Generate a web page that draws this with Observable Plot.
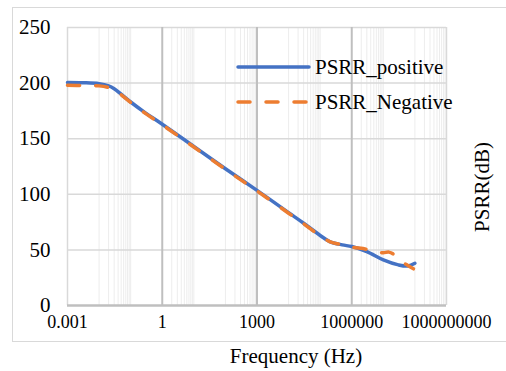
<!DOCTYPE html>
<html><head><meta charset="utf-8">
<script src="https://cdn.jsdelivr.net/npm/d3@7"></script>
<script src="https://cdn.jsdelivr.net/npm/@observablehq/plot@0.6"></script>
<style>
body{margin:0;background:#fff;}
#wrap{position:relative;width:506px;height:371px;overflow:hidden;font-family:"Liberation Serif","Times New Roman",serif;color:#000;}
#frame{position:absolute;left:12px;top:7px;width:560px;height:335px;border:1.5px solid #d9d9d9;box-sizing:border-box;}
#chart{position:absolute;left:0;top:0;}
.lab{position:absolute;font-size:21px;white-space:nowrap;line-height:1;}
.leg{position:absolute;display:flex;align-items:center;font-size:21px;white-space:nowrap;line-height:1;}
</style></head>
<body><div id="wrap"><div id="frame"></div><div id="chart"></div></div>
<script>
// Data
const freqPositive = [0.001, 0.003, 0.01, 0.02, 0.03, 0.05, 0.1, 0.3, 1, 10, 100, 1000, 10000, 30000, 100000, 200000, 500000, 1000000, 3000000, 10000000, 30000000, 60000000, 100000000];
const psrrPositive = [200.5, 200.3, 199.5, 197.5, 195, 190, 183, 173, 163, 143, 123, 103.5, 83.5, 74, 63, 57.5, 54.5, 53, 48.5, 41, 36.5, 35.5, 38];
const freqNegative = [0.001, 0.003, 0.01, 0.02, 0.03, 0.05, 0.1, 0.3, 1, 10, 100, 1000, 10000, 30000, 100000, 200000, 500000, 1000000, 3000000, 6000000, 10000000, 15000000, 20000000, 30000000, 60000000, 90000000];
const psrrNegative = [198, 197.8, 197.5, 196, 194, 189.5, 182.5, 172.5, 162.5, 142.5, 122.5, 103, 83, 73.5, 62.5, 57.5, 54.5, 52.5, 50.5, 48, 47.5, 48, 46.5, 41, 36, 33];
const seriesNames = ["PSRR_positive", "PSRR_Negative"];
const xTickValues = [0.001, 1, 1000, 1000000, 1000000000];
const yTickValues = [0, 50, 100, 150, 200, 250];
const minorDecades = [-2, 0, 2, 4, 6, 8];
const minorMultipliers = [1, 2, 3, 4, 5, 6, 7, 8, 9, 10];
const xTitle = "Frequency (Hz)";
const yTitle = "PSRR(dB)";

const colors = {pos: "#4472C4", neg: "#ED7D31"};
const dash = "12,16";

const posData = freqPositive.map((f, i) => ({f, v: psrrPositive[i]}));
const negData = freqNegative.map((f, i) => ({f, v: psrrNegative[i]}));
const majors = xTickValues.slice(1, -1);
const minorGrid = [];
for (const e of minorDecades) for (const k of minorMultipliers) {
  const v = +(k * Math.pow(10, e)).toPrecision(6);
  if (!xTickValues.includes(v)) minorGrid.push(v);
}

const chart = Plot.plot({
  width: 506, height: 371,
  marginLeft: 67, marginRight: 60, marginTop: 27, marginBottom: 66,
  style: {fontFamily: '"Liberation Serif","Times New Roman",serif', color: "#000", background: "transparent", overflow: "visible"},
  x: {type: "log", domain: [0.001, 1000000000]},
  y: {domain: [0, 250]},
  marks: [
    Plot.ruleX(minorGrid, {stroke: "#ededed", strokeWidth: 1}),
    Plot.ruleY(yTickValues.slice(1), {stroke: "#d9d9d9", strokeWidth: 1.5}),
    Plot.ruleX(majors, {stroke: "#bfbfbf", strokeWidth: 2}),
    Plot.ruleX([xTickValues[0], xTickValues[xTickValues.length - 1]], {stroke: "#d9d9d9", strokeWidth: 1.5}),
    Plot.ruleY([0], {stroke: "#bfbfbf", strokeWidth: 2.5}),
    Plot.line(posData, {x: "f", y: "v", stroke: colors.pos, strokeWidth: 3.5, curve: "catmull-rom", strokeLinecap: "round"}),
    Plot.line(negData, {x: "f", y: "v", stroke: colors.neg, strokeWidth: 3.5, curve: "catmull-rom", strokeDasharray: dash, strokeLinecap: "round"}),
    Plot.axisX({ticks: xTickValues, tickFormat: d => String(d), tickSize: 0, tickPadding: 10, fontSize: 18, label: null}),
    Plot.axisY({ticks: yTickValues, tickFormat: d => String(d), tickSize: 0, tickPadding: 17, fontSize: 21, label: null})
  ]
});
document.getElementById("chart").appendChild(chart);

const wrap = document.getElementById("wrap");
// axis titles
const xl = document.createElement("div");
xl.className = "lab"; xl.textContent = xTitle;
xl.style.left = "296px"; xl.style.top = "356px"; xl.style.transform = "translate(-50%,-50%)";
wrap.appendChild(xl);
const yl = document.createElement("div");
yl.className = "lab"; yl.textContent = yTitle;
yl.style.left = "482px"; yl.style.top = "187px"; yl.style.transform = "translate(-50%,-50%) rotate(-90deg)";
wrap.appendChild(yl);
// legend
const legendItems = [
  {name: seriesNames[0], color: colors.pos, dash: null, top: 67},
  {name: seriesNames[1], color: colors.neg, dash: dash, top: 102}
];
for (const it of legendItems) {
  const d = document.createElement("div");
  d.className = "leg";
  d.style.left = "236px"; d.style.top = (it.top - 12) + "px"; d.style.height = "24px";
  d.innerHTML = `<svg width="76" height="8" style="margin-right:3px"><line x1="2" y1="4" x2="73" y2="4" stroke="${it.color}" stroke-width="3.5" stroke-linecap="round" ${it.dash ? `stroke-dasharray="${it.dash}"` : ``}/></svg><span>${it.name}</span>`;
  wrap.appendChild(d);
}
</script>
</body></html>
